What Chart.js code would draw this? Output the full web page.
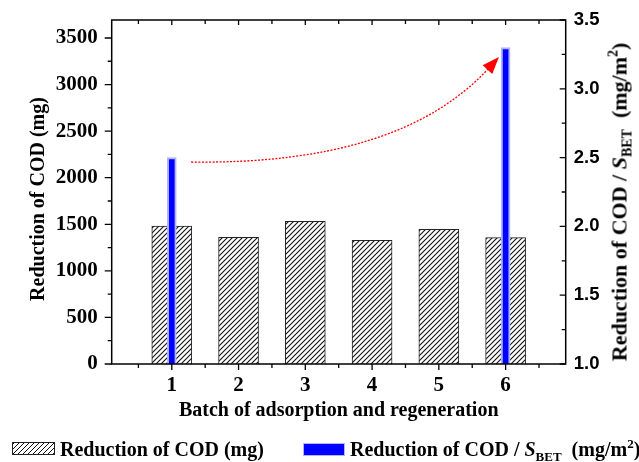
<!DOCTYPE html>
<html>
<head>
<meta charset="utf-8">
<script src="https://cdn.jsdelivr.net/npm/chart.js@4.4.1/dist/chart.umd.min.js"></script>
<style>
  html, body { margin: 0; padding: 0; background: #fff; }
  #wrap { position: relative; width: 639px; height: 462px; overflow: hidden; }
  canvas { position: absolute; left: 0; top: 0; }
  .serif { font-family: 'Liberation Serif', 'Times New Roman', serif; font-weight: bold; color: #000; }
  .vtitle { position: absolute; white-space: nowrap; line-height: 24px;
            transform: translate(-50%, -50%) rotate(-90deg); }
  .leg-text { position: absolute; white-space: nowrap; font-size: 20px; line-height: 20px; }
  .sw { position: absolute; box-sizing: border-box; }
</style>
</head>
<body>
<div id="wrap">
  <canvas id="c" width="639" height="462"></canvas>
  <div class="vtitle serif" style="left:37px; top:198.5px; font-size:20px;">Reduction of COD (mg)</div>
  <div class="vtitle serif" style="left:621px; top:201.5px; font-size:22px;">Reduction of COD / <i>S</i><span style="font-size:14px; position:relative; top:5px;">BET</span>&nbsp;&nbsp;(mg/m<span style="font-size:14px; position:relative; top:-9px;">2</span>)</div>
  <div class="sw" style="left:12px; top:442px; width:43px; height:13px; border:1px solid #222;
       background: repeating-linear-gradient(135deg, #111 0 1.1px, #fff 1.1px 3.54px);"></div>
  <div class="leg-text serif" style="left:60px; top:438.5px;">Reduction of COD (mg)</div>
  <div class="sw" style="left:302.5px; top:443px; width:42.5px; height:13px; background:#0000ff; border:1.5px solid #b0b4ff;"></div>
  <div class="leg-text serif" style="left:350px; top:438.5px;">Reduction of COD / <i>S</i><span style="font-size:13px; position:relative; top:5px;">BET</span>&nbsp;&nbsp;(mg/m<span style="font-size:13px; position:relative; top:-8px;">2</span>)</div>
</div>
<script>
// ---- data ----
const categories = [1, 2, 3, 4, 5, 6];
const codReduction = [1481, 1360, 1532, 1328, 1446, 1357];          // mg (left axis)
const specificBatches = [1, 6];
const specificReduction = [2.5, 3.3];                               // mg/m2 (right axis)
const leftTicks = [0, 500, 1000, 1500, 2000, 2500, 3000, 3500];
const rightTicks = [1.0, 1.5, 2.0, 2.5, 3.0, 3.5];
// annotation arrow (x in batch units, y in right-axis units): start, control, end
const arrowPath = [[1.29, 2.468], [4.42, 2.446], [5.90, 3.231]];

// ---- hatch pattern ----
function makeHatch() {
  const s = 5;
  const p = document.createElement('canvas');
  p.width = s; p.height = s;
  const g = p.getContext('2d');
  g.fillStyle = '#fff';
  g.fillRect(0, 0, s, s);
  g.strokeStyle = '#111';
  g.lineWidth = 1.1;
  g.beginPath();
  g.moveTo(0, s); g.lineTo(s, 0);
  g.moveTo(-1, 1); g.lineTo(1, -1);
  g.moveTo(s - 1, s + 1); g.lineTo(s + 1, s - 1);
  g.stroke();
  return document.getElementById('c').getContext('2d').createPattern(p, 'repeat');
}

const framePlugin = {
  id: 'frame',
  afterDatasetsDraw(chart) {
    const ctx = chart.ctx;
    const { left, right, top, bottom } = chart.chartArea;
    const xs = chart.scales.x, yl = chart.scales.y, yr = chart.scales.y2;
    ctx.save();
    // arrow
    const p0 = arrowPath[0], c = arrowPath[1], p2 = arrowPath[2];
    const P0 = [xs.getPixelForValue(p0[0]), yr.getPixelForValue(p0[1])];
    const C = [xs.getPixelForValue(c[0]), yr.getPixelForValue(c[1])];
    const P2 = [xs.getPixelForValue(p2[0]), yr.getPixelForValue(p2[1])];
    let dx = P2[0] - C[0], dy = P2[1] - C[1];
    const d = Math.hypot(dx, dy); dx /= d; dy /= d;
    const headLen = 17, headW = 6.5;
    const B = [P2[0] - dx * headLen, P2[1] - dy * headLen];
    ctx.strokeStyle = '#ff0000';
    ctx.lineWidth = 1.3;
    ctx.setLineDash([2, 1.5]);
    ctx.beginPath();
    ctx.moveTo(P0[0], P0[1]);
    ctx.quadraticCurveTo(C[0], C[1], B[0] + dx * 2, B[1] + dy * 2);
    ctx.stroke();
    ctx.setLineDash([]);
    ctx.fillStyle = '#ff0000';
    ctx.beginPath();
    ctx.moveTo(P2[0], P2[1]);
    ctx.lineTo(B[0] - dy * headW, B[1] + dx * headW);
    ctx.lineTo(B[0] + dy * headW, B[1] - dx * headW);
    ctx.closePath();
    ctx.fill();

    // frame
    ctx.strokeStyle = '#000';
    ctx.lineWidth = 1.5;
    ctx.strokeRect(left, top, right - left, bottom - top);
    ctx.beginPath();
    // bottom (outward) and top (inward) ticks
    for (let v = 0.5; v <= 6.51; v += 0.5) {
      const px = xs.getPixelForValue(v);
      const major = Math.abs(v - Math.round(v)) < 1e-6;
      ctx.moveTo(px, bottom); ctx.lineTo(px, bottom + (major ? 6 : 4));
      ctx.moveTo(px, top); ctx.lineTo(px, top + (major ? 5 : 4));
    }
    // left ticks (outward)
    for (let v = 0; v <= 3600; v += 250) {
      const py = yl.getPixelForValue(v);
      const major = v % 500 === 0;
      ctx.moveTo(left, py); ctx.lineTo(left - (major ? 7 : 4), py);
    }
    // right ticks (inward)
    for (let v = 1.0; v <= 3.51; v += 0.25) {
      const py = yr.getPixelForValue(v);
      const major = Math.abs(v * 2 - Math.round(v * 2)) < 1e-6;
      ctx.moveTo(right, py); ctx.lineTo(right - (major ? 6 : 4), py);
    }
    ctx.lineWidth = 1.3;
    ctx.stroke();
    ctx.restore();
  }
};

const serifBold = (size) => ({ family: "'Liberation Serif', 'Times New Roman', serif", weight: 'bold', size });

new Chart(document.getElementById('c'), {
  type: 'bar',
  data: {
    datasets: [
      {
        label: 'Reduction of COD (mg)',
        data: categories.map((x, i) => ({ x, y: codReduction[i] })),
        yAxisID: 'y',
        backgroundColor: makeHatch(),
        borderColor: '#222',
        borderWidth: 1,
        barThickness: 40,
        grouped: false,
        order: 2
      },
      {
        label: 'Reduction of COD / S_BET (mg/m2)',
        data: specificBatches.map((x, i) => ({ x, y: specificReduction[i] })),
        yAxisID: 'y2',
        backgroundColor: '#0000ff',
        borderColor: '#b0b4ff',
        borderWidth: 2,
        barThickness: 9,
        grouped: false,
        order: 1
      }
    ]
  },
  options: {
    responsive: false,
    animation: false,
    devicePixelRatio: 1,
    layout: { padding: { top: 20, left: 0, right: 0, bottom: 0 } },
    plugins: { legend: { display: false }, tooltip: { enabled: false } },
    scales: {
      x: {
        type: 'linear',
        position: 'bottom',
        offset: false,
        min: 0.1, max: 6.9,
        afterBuildTicks: (s) => { s.ticks = categories.map(v => ({ value: v })); },
        afterFit: (s) => { s.height = 98; s.paddingLeft = 0; s.paddingRight = 0; },
        grid: { display: false, drawTicks: false, offset: false },
        border: { display: false },
        ticks: { font: serifBold(21), color: '#000', padding: 9, maxRotation: 0, autoSkip: false,
                 callback: (v) => String(v) },
        title: { display: true, text: 'Batch of adsorption and regeneration', font: serifBold(20), color: '#000', padding: { top: 0, bottom: 39 } }
      },
      y: {
        position: 'left',
        min: 0, max: 3693,
        afterBuildTicks: (s) => { s.ticks = leftTicks.map(v => ({ value: v })); },
        afterFit: (s) => { s.width = 111.7; s.paddingTop = 0; s.paddingBottom = 0; },
        grid: { display: false, drawTicks: false },
        border: { display: false },
        ticks: { font: serifBold(21), color: '#000', padding: 14, callback: (v) => String(v) }
      },
      y2: {
        position: 'right',
        min: 1.0, max: 3.5,
        afterBuildTicks: (s) => { s.ticks = rightTicks.map(v => ({ value: v })); },
        afterFit: (s) => { s.width = 73.3; s.paddingTop = 0; s.paddingBottom = 0; },
        grid: { display: false, drawTicks: false },
        border: { display: false },
        ticks: {
          font: { family: "'Liberation Sans', Arial, sans-serif", weight: 'bold', size: 18.5 },
          color: '#000', padding: 8,
          callback: (v) => Number(v).toFixed(1)
        }
      }
    }
  },
  plugins: [framePlugin]
});
</script>
</body>
</html>
